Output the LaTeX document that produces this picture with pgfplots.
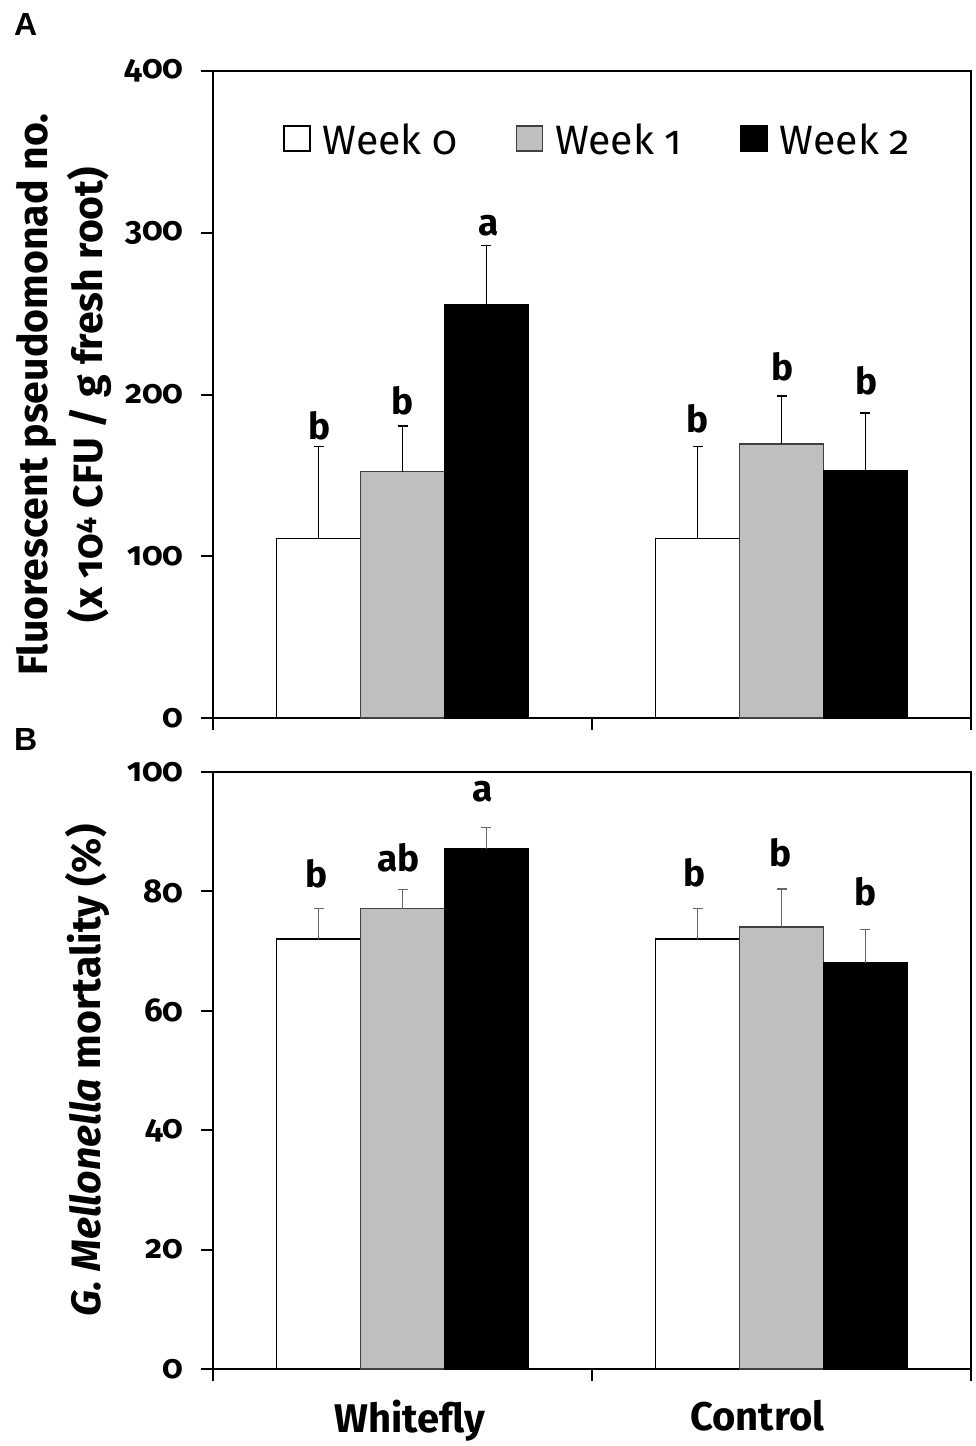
\documentclass[border=0pt]{standalone}
\usepackage{pgfplots}
\pgfplotsset{compat=1.18}
\usepackage{pgfplotstable}
\usepackage{fontspec}
\setmainfont{Fira Sans}[Numbers=OldStyle]
\newfontfamily\panelfont{Liberation Sans}
\definecolor{barGray}{HTML}{BFBFBF}

% Panel A
\pgfplotstableread{
x y e
-0.2213 111.0 57.0
0.7787 111.0 57.0
}\Azero
\pgfplotstableread{
x y e
0 152.4 28.0
1 169.4 29.7
}\Aone
\pgfplotstableread{
x y e
0.2213 255.8 36.2
1.2213 152.7 35.9
}\Atwo
\pgfplotstableread{
x y lab
-0.218 172.2 b
0.000 187.7 b
0.2273 298.0 a
0.778 176.5 b
1.003 208.7 b
1.2233 200.0 b
}\Alab
% Panel B
\pgfplotstableread{
x y e
-0.2213 72.0 5.1
0.7787 72.0 5.1
}\Bzero
\pgfplotstableread{
x y e
0 77.1 3.2
1 74.0 6.4
}\Bone
\pgfplotstableread{
x y e
0.2213 87.1 3.6
1.2213 68.0 5.6
}\Btwo
\pgfplotstableread{
x y lab
-0.226 80.7 b
-0.010 83.3 ab
0.2115 95.0 a
0.7714 80.9 b
0.9967 84.1 b
1.2207 77.6 b
}\Blab

\pgfplotsset{
  panel/.style={
    scale only axis, width=758pt, xmin=-0.5, xmax=1.5,
    axis line style={line width=2pt, black},
    tick align=outside, tick pos=left, major tick length=12pt,
    tick style={line width=2pt, black},
    xtick={-0.5,0.5,1.5}, xticklabels={,,},
    yticklabel style={font=\fontsize{33}{38}\selectfont\bfseries, xshift=-14pt},
    /pgf/number format/assume math mode=true,
    ylabel style={font=\fontsize{41}{55}\selectfont\bfseries, align=center, anchor=north, inner sep=0pt},
    clip=false,
  },
  barbase/.style={ybar, bar width=0.2213, bar shift=0pt, line width=1.5pt,
    legend image code/.code={\draw[##1, line width=1.5pt] (0pt,-11pt) rectangle (26pt,14pt);},
    /pgfplots/error bars/y dir=plus, /pgfplots/error bars/y explicit,
    /pgfplots/error bars/error bar style={line width=1.5pt, #1},
    /pgfplots/error bars/error mark options={rotate=90, line width=1.5pt, mark size=5pt, #1}},
  labs/.style={only marks, mark=*, mark size=0pt, mark options={draw=none, fill=none},
    nodes near coords, point meta=explicit symbolic,
    every node near coord/.style={anchor=base, inner sep=0pt, black, font=\fontsize{37}{42}\selectfont\bfseries}},
}

\begin{document}
\begin{tikzpicture}
\useasboundingbox (0pt,0pt) rectangle (975pt,-1446pt);
\node[anchor=base west, inner sep=0pt, font=\panelfont\bfseries\fontsize{32}{36}\selectfont] at (14pt,-35pt) {A};
\node[anchor=base west, inner sep=0pt, font=\panelfont\bfseries\fontsize{32}{36}\selectfont] at (14pt,-750pt) {B};

\begin{axis}[panel, height=647pt, at={(213pt,-718pt)}, anchor=south west,
  ymin=0, ymax=400, ytick={0,100,200,300,400},
  ylabel={Fluorescent pseudomonad no.\\(x 10\textsuperscript{4} CFU / g fresh root)},
  ylabel style={at={(axis description cs:-0.2598,0.5)}},
  legend columns=3,
  legend style={at={(axis description cs:0.0923,0.8934)}, anchor=west, draw=none, fill=none,
    inner sep=0pt, font=\fontsize{41}{46}\selectfont, nodes={inner sep=0pt},
    /tikz/every odd column/.append style={column sep=12pt},
    /tikz/every even column/.append style={column sep=58pt}},
]
\addplot[barbase=black, fill=white, draw=black] table[x=x, y=y, y error=e] {\Azero};
\addlegendentry{Week 0}
\addplot[barbase=black, fill=barGray, draw=black!75] table[x=x, y=y, y error=e] {\Aone};
\addlegendentry{Week 1}
\addplot[barbase=black, fill=black, draw=black] table[x=x, y=y, y error=e] {\Atwo};
\addlegendentry{Week 2}
\addplot[labs, forget plot] table[x=x, y=y, meta=lab] {\Alab};
\end{axis}

\begin{axis}[panel, height=597pt, at={(213pt,-1369pt)}, anchor=south west,
  ymin=0, ymax=100, ytick={0,20,40,60,80,100},
  ylabel={\textit{G. Mellonella} mortality (\%)},
  ylabel style={at={(axis description cs:-0.1953,0.5)}},
  extra x ticks={0.019,0.936}, extra x tick labels={Whitefly,Control},
  extra x tick style={grid=none, major tick length=0pt,
    xticklabel style={font=\fontsize{40}{46}\selectfont\bfseries, yshift=-28pt}},
]
\addplot[barbase=black!60, fill=white, draw=black] table[x=x, y=y, y error=e] {\Bzero};
\addplot[barbase=black!60, fill=barGray, draw=black!75] table[x=x, y=y, y error=e] {\Bone};
\addplot[barbase=black!60, fill=black, draw=black] table[x=x, y=y, y error=e] {\Btwo};
\addplot[labs] table[x=x, y=y, meta=lab] {\Blab};
\end{axis}
\end{tikzpicture}
\end{document}
